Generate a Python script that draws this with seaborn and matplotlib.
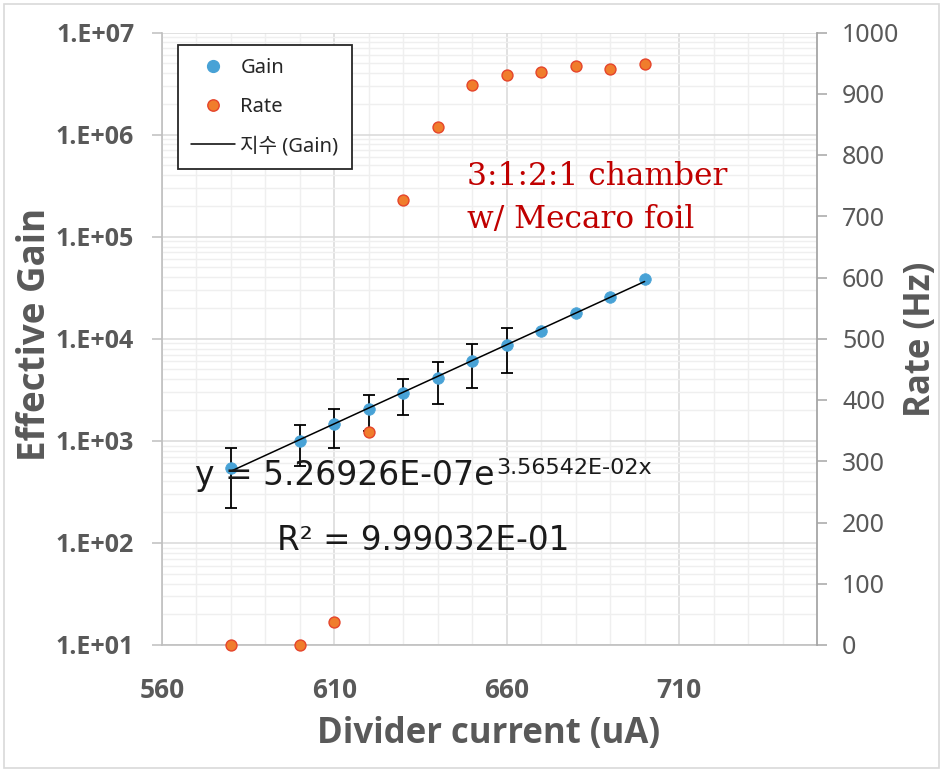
import numpy as np
import pandas as pd
import matplotlib
matplotlib.use("Agg")
import matplotlib.pyplot as plt
import seaborn as sns
from matplotlib import font_manager as fm
from matplotlib.lines import Line2D
from matplotlib.patches import Rectangle
from matplotlib.ticker import FixedLocator, LogLocator, MultipleLocator, NullFormatter, FixedFormatter

# ---------------- data ----------------
gain_current = [580, 600, 610, 620, 630, 640, 650, 660, 670, 680, 690, 700]
gain_values = [540, 1005, 1455, 2040, 2926, 4105, 6065, 8695, 11920, 17780, 25480, 38260]
gain_errors = [318, 435, 600, 795, 1145, 1800, 2750, 4100, 0, 0, 0, 0]

rate_current = [580, 600, 610, 620, 630, 640, 650, 660, 670, 680, 690, 700]
rate_values = [0, 0, 38, 348, 726, 846, 915, 930, 935, 946, 940, 948]

fit_a = 5.26926e-07
fit_b = 3.56542e-02
fit_r2 = 9.99032e-01

x_ticks = [560, 610, 660, 710]
gain_ticks = [1e1, 1e2, 1e3, 1e4, 1e5, 1e6, 1e7]
gain_tick_labels = ["1.E+01", "1.E+02", "1.E+03", "1.E+04", "1.E+05", "1.E+06", "1.E+07"]
rate_ticks = [0, 100, 200, 300, 400, 500, 600, 700, 800, 900, 1000]

legend_labels = ["Gain", "Rate", "지수 (Gain)"]
annotation_lines = ["3:1:2:1 chamber", "w/ Mecaro foil"]

# ---------------- style ----------------
sns.set_style("white")
plt.rcParams["font.family"] = ["Noto Sans", "Noto Sans CJK KR", "DejaVu Sans"]


def pick_bold(cands):
    for fam in cands:
        try:
            p = fm.findfont(fm.FontProperties(family=fam, weight="bold"), fallback_to_default=False)
        except Exception:
            continue
        ft = fm.get_font(p)
        if ft.family_name.lower().startswith(fam.lower().split()[0]) and \
                ("bold" in p.lower() or "Bold" in ft.style_name):
            return fam
    return "DejaVu Sans"


BOLD_FAM = pick_bold(["Open Sans", "Noto Sans", "Roboto", "Lato", "Liberation Sans"])

W, H = 943, 772
fig = plt.figure(figsize=(W / 100, H / 100), dpi=100)
fig.patch.set_facecolor("white")


def fx(x):
    return x / W


def fy(y):
    return 1 - y / H


L, R, T, B = 162, 817, 32.5, 645
ax = fig.add_axes([fx(L), fy(B), fx(R) - fx(L), fy(T) - fy(B)])
ax2 = ax.twinx()

TXT = "#595959"
GAIN_C = "#48A2D6"
RATE_FC = "#F07D2C"
RATE_EC = "#E5442B"

df_gain = pd.DataFrame({"current": gain_current, "gain": gain_values, "err": gain_errors})
df_rate = pd.DataFrame({"current": rate_current, "rate": rate_values})
df_fit = pd.DataFrame({"current": gain_current,
                       "fit": fit_a * np.exp(fit_b * np.array(gain_current, dtype=float))})

ax.set_yscale("log")
ax.set_xlim(560, 750)
ax.set_ylim(1e1, 1e7)
ax2.set_ylim(0, 1000)

de = df_gain[df_gain["err"] > 0]
ax.errorbar(de["current"], de["gain"], yerr=de["err"], fmt="none", ecolor="black",
            elinewidth=1.3, capsize=4.5, capthick=1.3, zorder=2.5)

sns.scatterplot(data=df_gain, x="current", y="gain", ax=ax, color=GAIN_C, s=70,
                edgecolor=GAIN_C, linewidth=0.5, zorder=3, legend=False)
sns.lineplot(data=df_fit, x="current", y="fit", ax=ax, color="black", linewidth=1.1,
             zorder=4, legend=False)

sns.scatterplot(data=df_rate, x="current", y="rate", ax=ax2, color=RATE_FC, s=62,
                edgecolor=RATE_EC, linewidth=1.0, zorder=3, legend=False, clip_on=False)

# ---------------- axes ----------------
ax.xaxis.set_major_locator(FixedLocator(x_ticks))
ax.xaxis.set_minor_locator(MultipleLocator(10))
ax.yaxis.set_major_locator(FixedLocator(gain_ticks))
ax.yaxis.set_major_formatter(FixedFormatter(gain_tick_labels))
ax.yaxis.set_minor_locator(LogLocator(base=10, subs=np.arange(2, 10)))
ax.yaxis.set_minor_formatter(NullFormatter())
ax2.yaxis.set_major_locator(FixedLocator(rate_ticks))

ax.set_axisbelow(True)
ax.grid(which="major", color="#D9D9D9", linewidth=1.1)
ax.grid(which="minor", color="#EFEFEF", linewidth=1.0)
ax2.grid(False)

for s in ["top", "right"]:
    ax.spines[s].set_visible(False)
for s in ["top", "left", "bottom"]:
    ax2.spines[s].set_visible(False)
ax.spines["left"].set_color("#BFBFBF")
ax.spines["bottom"].set_color("#BFBFBF")
ax.spines["left"].set_linewidth(1.2)
ax.spines["bottom"].set_linewidth(1.2)
ax2.spines["right"].set_color("#A6A6A6")
ax2.spines["right"].set_linewidth(1.3)

ax.tick_params(axis="y", which="major", direction="out", length=7, width=1.1,
               color="#BFBFBF", pad=13, labelsize=18, labelcolor=TXT)
ax.tick_params(axis="x", which="major", direction="out", length=7, width=1.1,
               color="#BFBFBF", pad=16, labelsize=19, labelcolor=TXT)
ax.tick_params(which="minor", length=0)
ax2.tick_params(axis="y", which="major", direction="out", length=7, width=1.1,
                color="#A6A6A6", pad=11, labelsize=18, labelcolor=TXT)
for lab in ax.get_yticklabels() + ax.get_xticklabels():
    lab.set_fontweight("bold")
    lab.set_family(BOLD_FAM)

ax.set_xlabel("")
ax.set_ylabel("")
ax2.set_ylabel("")

fig.text(fx(35), fy(334), "Effective Gain", rotation=90, ha="center", va="center",
         fontsize=26.5, fontweight="bold", family=BOLD_FAM, color=TXT)
fig.text(fx(489), fy(734), "Divider current (uA)", ha="center", va="center",
         fontsize=25, fontweight="bold", family=BOLD_FAM, color=TXT)
fig.text(fx(921), fy(339), "Rate (Hz)", rotation=90, ha="center", va="center",
         fontsize=25, fontweight="bold", family=BOLD_FAM, color=TXT)

# equation annotations
EQ = "#1A1A1A"
fig.text(fx(195), fy(485), "y = 5.26926E-07e", ha="left", va="baseline",
         fontsize=23.8, color=EQ, family="DejaVu Sans", zorder=10)
fig.text(fx(496), fy(474), "3.56542E-02x", ha="left", va="baseline",
         fontsize=16, color=EQ, family="DejaVu Sans", zorder=10)
fig.text(fx(277), fy(550), "R\u00b2 = 9.99032E-01", ha="left", va="baseline",
         fontsize=23.5, color=EQ, family="DejaVu Sans", zorder=10)

fig.text(fx(467), fy(185), annotation_lines[0], ha="left", va="baseline",
         fontsize=22.5, color="#C00000", family="DejaVu Serif", zorder=10)
fig.text(fx(467), fy(228), annotation_lines[1], ha="left", va="baseline",
         fontsize=22.5, color="#C00000", family="DejaVu Serif", zorder=10)

# legend
handles = [
    Line2D([], [], linestyle="none", marker="o", markersize=8.5, markerfacecolor=GAIN_C,
           markeredgecolor=GAIN_C),
    Line2D([], [], linestyle="none", marker="o", markersize=8.2, markerfacecolor=RATE_FC,
           markeredgecolor=RATE_EC, markeredgewidth=1.0),
    Line2D([], [], color="black", linewidth=1.1),
]
leg = fig.legend(handles, legend_labels, loc="upper left",
                 bbox_to_anchor=(fx(178), fy(45)), bbox_transform=fig.transFigure,
                 frameon=True, fancybox=False, framealpha=1, edgecolor="#262626",
                 prop={"family": ["Noto Sans", "Noto Sans CJK KR"], "size": 14.5},
                 handlelength=2.2, handletextpad=0.25, labelspacing=0.95,
                 borderpad=0.65, borderaxespad=0)
leg.get_frame().set_linewidth(1.3)
for t in leg.get_texts():
    t.set_color("#262626")

fig.patches.append(Rectangle((fx(4), fy(768)), fx(935), 764 / H, transform=fig.transFigure,
                             fill=False, edgecolor="#D9D9D9", linewidth=1.2))

fig.savefig("out.png", dpi=100)
